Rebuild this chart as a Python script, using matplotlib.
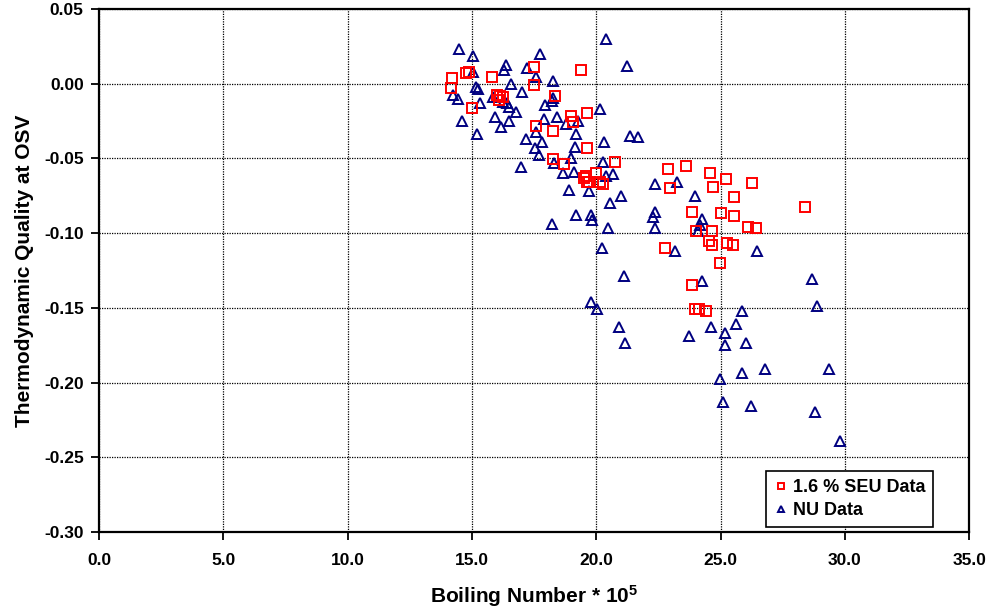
import matplotlib
matplotlib.use("Agg")
import matplotlib.pyplot as plt
import numpy as np

plt.rcParams['font.family'] = ['Liberation Sans', 'DejaVu Sans']
plt.rcParams['mathtext.fontset'] = 'custom'
plt.rcParams['mathtext.rm'] = 'Liberation Sans'
plt.rcParams['mathtext.bf'] = 'Liberation Sans:bold'
plt.rcParams['mathtext.default'] = 'bf'

# 1.6 % SEU Data
seu_x = [14.2, 14.16, 14.76, 14.88, 15.81, 17.5, 17.5, 19.39, 16.0, 16.13, 16.25, 16.1,
         15.0, 18.34, 19.63, 18.99, 19.07, 17.58, 18.26, 19.63, 18.26, 18.71, 20.76, 22.89,
         22.97, 19.5, 19.6, 19.63, 19.71, 20.0, 20.16, 20.28, 23.6, 24.58, 25.22, 26.27,
         24.7, 25.55, 28.4, 23.86, 25.02, 25.55, 26.11, 26.43, 24.02, 24.66, 24.54, 24.66,
         25.26, 25.51, 22.77, 24.97, 23.86, 23.98, 24.14, 24.42]
seu_y = [0.004, -0.0027, 0.0074, 0.008, 0.0047, 0.0114, -0.0007, 0.0094, -0.0074, -0.008,
         -0.0087, -0.011, -0.016, -0.008, -0.0194, -0.0214, -0.0254, -0.0281, -0.0315, -0.0428,
         -0.0502, -0.0535, -0.0522, -0.0569, -0.0696, -0.063, -0.062, -0.066, -0.066, -0.060,
         -0.066, -0.067, -0.0549, -0.060, -0.0636, -0.0663, -0.069, -0.0756, -0.0823, -0.0857,
         -0.0863, -0.0884, -0.0957, -0.0964, -0.0984, -0.0984, -0.105, -0.1078, -0.1064, -0.1078,
         -0.110, -0.120, -0.135, -0.1506, -0.1506, -0.152]

# NU Data
nu_x = [14.48, 15.05, 20.4, 17.74, 21.24, 16.37, 16.29, 17.22, 15.05, 17.58, 18.26, 16.57,
        15.17, 15.25, 17.02, 14.24, 14.44, 15.85, 16.25, 16.41, 16.49, 15.33, 18.26, 18.22,
        17.94, 16.78, 20.16, 14.6, 15.93, 16.49, 16.17, 17.9, 18.43, 18.79, 19.27, 15.2,
        19.19, 17.18, 17.58, 17.82, 21.36, 21.68, 20.32, 17.54, 19.15, 17.70, 18.99, 20.28,
        16.98, 18.3, 18.67, 19.11, 20.4, 20.68, 18.91, 19.71, 20.56, 21.0, 22.37, 23.25,
        23.98, 19.19, 19.79, 19.83, 22.37, 22.29, 20.48, 22.37, 24.26, 24.18, 24.1, 20.24,
        23.17, 26.47, 21.12, 24.26, 28.68, 28.89, 19.79, 20.03, 25.87, 20.92, 24.62, 25.63,
        21.16, 23.74, 25.18, 25.18, 26.03, 26.8, 25.87, 29.37, 24.98, 25.1, 26.23, 28.8,
        29.81, 18.22]
nu_y = [0.0234, 0.0187, 0.030, 0.020, 0.012, 0.0127, 0.0094, 0.0107, 0.008, 0.0047, 0.002,
        0.0, -0.002, -0.0033, -0.0054, -0.0074, -0.010, -0.0087, -0.012, -0.0127, -0.0154,
        -0.0127, -0.0094, -0.0114, -0.014, -0.0187, -0.0167, -0.0248, -0.0221, -0.0248,
        -0.0288, -0.0234, -0.0221, -0.0268, -0.0248, -0.0335, -0.0335, -0.0368, -0.0321,
        -0.0388, -0.0348, -0.0355, -0.0388, -0.0428, -0.0422, -0.0475, -0.0495, -0.0522,
        -0.0556, -0.0529, -0.0596, -0.0589, -0.0616, -0.0602, -0.0710, -0.0716, -0.0797,
        -0.075, -0.0669, -0.0656, -0.075, -0.0877, -0.0877, -0.091, -0.0857, -0.089, -0.0964,
        -0.0964, -0.0904, -0.0944, -0.0984, -0.110, -0.1118, -0.1118, -0.1285, -0.132,
        -0.1305, -0.149, -0.146, -0.1506, -0.152, -0.1627, -0.1627, -0.161, -0.1734, -0.169,
        -0.1667, -0.1747, -0.1734, -0.191, -0.1935, -0.1908, -0.1975, -0.2128, -0.216,
        -0.220, -0.239, -0.0937]

x_ticks = [0, 5, 10, 15, 20, 25, 30, 35]
y_ticks = [0.05, 0.00, -0.05, -0.10, -0.15, -0.20, -0.25, -0.30]

fig = plt.figure(figsize=(9.9, 6.14), dpi=100)
ax = fig.add_axes([0.1, 0.1336, 0.879, 0.8517])

ax.plot(seu_x, seu_y, linestyle='none', marker='s', markersize=6.5,
        markerfacecolor='none', markeredgecolor='#ff0000', markeredgewidth=1.4,
        label='1.6 % SEU Data', zorder=4)
ax.plot(nu_x, nu_y, linestyle='none', marker='^', markersize=6.5,
        markerfacecolor='none', markeredgecolor='#000080', markeredgewidth=1.4,
        label='NU Data', zorder=3)

ax.set_xlim(0, 35)
ax.set_ylim(-0.30, 0.05)
ax.set_xticks(x_ticks)
ax.set_yticks(y_ticks)
ax.set_xticklabels([f'{v:.1f}' for v in x_ticks])
ax.set_yticklabels([f'{v:.2f}' for v in y_ticks])
ax.tick_params(axis='both', direction='out', length=6, width=1.3, labelsize=12.5)
ax.tick_params(axis='x', pad=9)
ax.tick_params(axis='y', pad=5)
for lab in ax.get_xticklabels() + ax.get_yticklabels():
    lab.set_fontweight('bold')

ax.grid(True, color='black', linestyle=(0, (1, 1)), linewidth=0.9)
ax.set_axisbelow(True)
for s in ax.spines.values():
    s.set_linewidth(1.6)
    s.set_color('black')

ax.set_xlabel(r'Boiling Number * 10$^{5}$', fontsize=15, fontweight='bold', labelpad=11)
ax.set_ylabel('Thermodynamic Quality at OSV', fontsize=15, fontweight='bold', labelpad=7)

leg = ax.legend(loc='lower right', bbox_to_anchor=(0.9586, 0.0096), fancybox=False,
                edgecolor='black', framealpha=1, prop={'weight': 'bold', 'size': 13},
                markerscale=0.75, handlelength=0.7, handletextpad=0.3, borderpad=0.45,
                labelspacing=0.3, borderaxespad=0)
leg.get_frame().set_linewidth(1.2)

fig.savefig('out.png', dpi=100)
